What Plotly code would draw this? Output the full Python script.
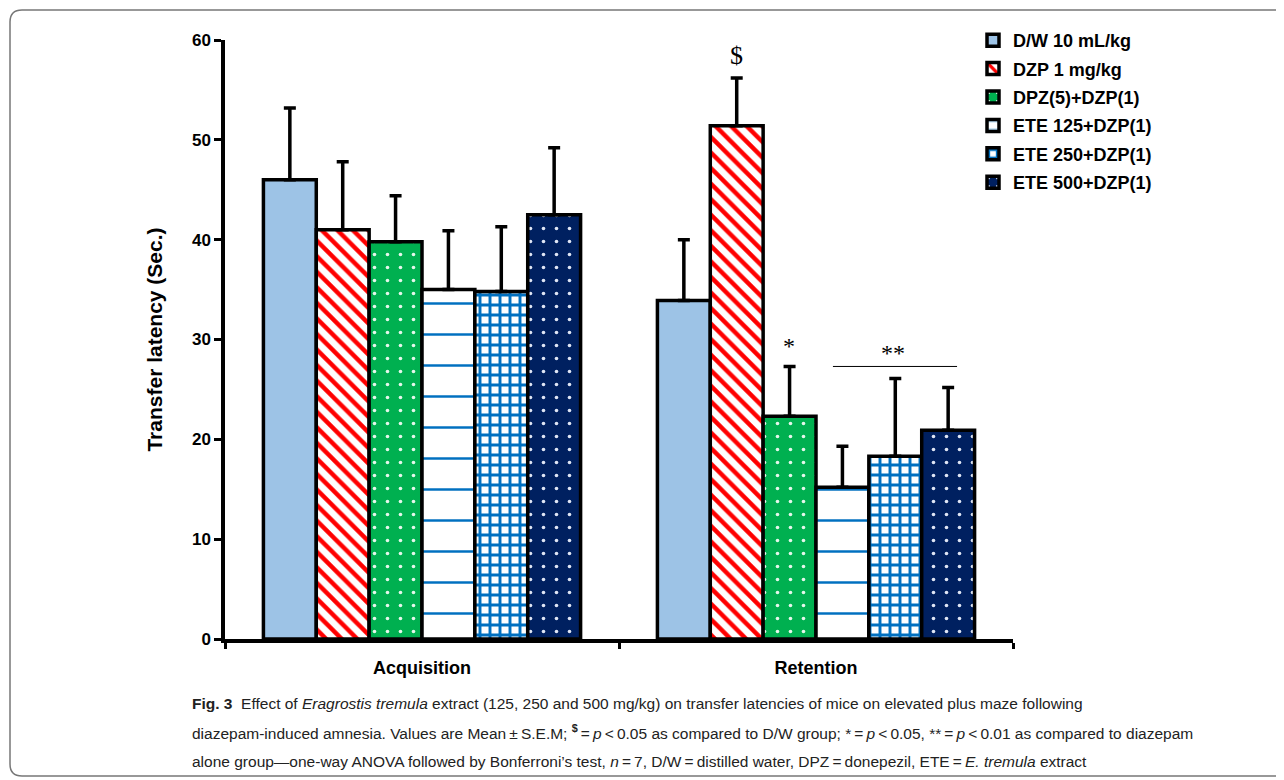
import plotly.graph_objects as go

categories = ["Acquisition", "Retention"]
groups = ["D/W 10 mL/kg", "DZP 1 mg/kg", "DPZ(5)+DZP(1)", "ETE 125+DZP(1)", "ETE 250+DZP(1)", "ETE 500+DZP(1)"]
dw_mean = [46.0, 33.9]
dw_sem = [7.2, 6.1]
dzp_mean = [41.0, 51.4]
dzp_sem = [6.8, 4.8]
dpz_mean = [39.8, 22.3]
dpz_sem = [4.6, 5.0]
ete125_mean = [35.0, 15.2]
ete125_sem = [5.9, 4.1]
ete250_mean = [34.8, 18.3]
ete250_sem = [6.5, 7.8]
ete500_mean = [42.5, 20.9]
ete500_sem = [6.7, 4.3]

means = [dw_mean, dzp_mean, dpz_mean, ete125_mean, ete250_mean, ete500_mean]
sems = [dw_sem, dzp_sem, dpz_sem, ete125_sem, ete250_sem, ete500_sem]

styles = [
    dict(color="#9DC3E6", pattern=dict(shape="")),
    dict(color="white", pattern=dict(shape="\\", fgcolor="#FF0000", bgcolor="white", size=11, solidity=0.4, fgopacity=1, fillmode="overlay")),
    dict(color="#00B050", pattern=dict(shape=".", fgcolor="#E6F7EC", bgcolor="#00B050", size=13, solidity=0.06, fgopacity=1, fillmode="overlay")),
    dict(color="white", pattern=dict(shape="-", fgcolor="#0070C0", bgcolor="white", size=31, solidity=0.08, fgopacity=1, fillmode="overlay")),
    dict(color="white", pattern=dict(shape="+", fgcolor="#0070C0", bgcolor="white", size=10, solidity=0.5, fgopacity=1, fillmode="overlay")),
    dict(color="#002060", pattern=dict(shape=".", fgcolor="#E0E6F5", bgcolor="#002060", size=13, solidity=0.06, fgopacity=1, fillmode="overlay")),
]

fig = go.Figure()
for name, m, s, st in zip(groups, means, sems, styles):
    fig.add_trace(go.Bar(
        name=name, x=categories, y=m, legendgroup=name,
        marker=dict(color=st["color"], pattern=st["pattern"], line=dict(color="black", width=3.5)),
        error_y=dict(type="data", symmetric=False, array=s, arrayminus=[0] * len(s),
                     color="black", thickness=3.5, width=6),
    ))

# plot-area geometry in page pixels (page has an 8px body offset)
OFF = 8
L, R, T, B = 225, 1013, 40, 639
def px(x):
    return (x - L) / (R - L)
def py(y):
    return (B - y) / (B - T)

shapes = []
# rounded frame
x0, y0, x1, y1, r = 10, 10, 1300, 776, 12
path = (f"M {px(x0)},{py(y0 + r)} Q {px(x0)},{py(y0)} {px(x0 + r)},{py(y0)} "
        f"L {px(x1)},{py(y0)} L {px(x1)},{py(y1)} L {px(x0 + r)},{py(y1)} "
        f"Q {px(x0)},{py(y1)} {px(x0)},{py(y1 - r)} Z")
shapes.append(dict(type="path", path=path, xref="paper", yref="paper",
                   line=dict(color="#777777", width=1.5), layer="below"))
# significance line over ETE groups (Retention)
shapes.append(dict(type="line", xref="x", yref="y", x0=1.043, x1=1.358, y0=27.3, y1=27.3,
                   line=dict(color="black", width=1)))

annotations = [
    dict(x=0.799, y=58.4, xref="x", yref="y", text="$", showarrow=False,
         font=dict(family="Liberation Serif", size=26, color="black")),
    dict(x=0.931, y=29.3, xref="x", yref="y", text="*", showarrow=False,
         font=dict(family="Liberation Serif", size=24, color="black")),
    dict(x=1.195, y=28.6, xref="x", yref="y", text="**", showarrow=False,
         font=dict(family="Liberation Serif", size=24, color="black")),
]

TS = "\u2009"  # thin space, as in the typeset caption
cap_font = dict(family="Liberation Sans", size=15.5, color="#222222")
cap_lines = [
    "<b>Fig. 3</b>  Effect of <i>Eragrostis tremula</i> extract (125, 250 and 500 mg/kg) on transfer latencies of mice on elevated plus maze following",
    f"diazepam-induced amnesia. Values are Mean{TS}±{TS}S.E.M; <sup><b>$</b></sup>{TS}={TS}<i>p</i>{TS}<{TS}0.05 as compared to D/W group; *{TS}={TS}<i>p</i>{TS}<{TS}0.05, **{TS}={TS}<i>p</i>{TS}<{TS}0.01 as compared to diazepam",
    f"alone group—one-way ANOVA followed by Bonferroni’s test, <i>n</i>{TS}={TS}7, D/W{TS}={TS}distilled water, DPZ{TS}={TS}donepezil, ETE{TS}={TS}<i>E. tremula</i> extract",
]
for i, line in enumerate(cap_lines):
    annotations.append(dict(x=px(190), y=py(703 + 29 * i), xref="paper", yref="paper",
                            xanchor="left", yanchor="middle", text=line, showarrow=False,
                            font=cap_font, align="left"))

fig.update_layout(
    width=1284, height=780,
    margin=dict(l=L - OFF, r=1284 - (R - OFF), t=T - OFF, b=780 - (B - OFF)),
    paper_bgcolor="white", plot_bgcolor="white",
    barmode="group", bargap=0.195, bargroupgap=0,
    font=dict(family="Liberation Sans", color="black"),
    showlegend=True,
    legend=dict(x=px(973), y=py(22), xanchor="left", yanchor="top",
                font=dict(family="Liberation Sans", size=18, color="black", weight="bold"),
                bgcolor="rgba(0,0,0,0)", tracegroupgap=2, itemwidth=30),
    xaxis=dict(showline=True, linecolor="black", linewidth=3.5, ticks="outside", tickson="boundaries",
               tickwidth=3, ticklen=6, tickcolor="black", ticklabelstandoff=10,
               tickfont=dict(family="Liberation Sans", size=18, color="black", weight="bold"),
               showgrid=False),
    yaxis=dict(range=[0, 60], dtick=10, showline=True, linecolor="black", linewidth=3.5,
               ticks="outside", tickwidth=3, ticklen=7, tickcolor="black", showgrid=False,
               zeroline=False,
               tickfont=dict(family="Liberation Sans", size=17, color="black", weight="bold"),
               title=dict(text="Transfer latency (Sec.)", standoff=25,
                          font=dict(family="Liberation Sans", size=21, color="black", weight="bold"))),
    shapes=shapes, annotations=annotations,
)

fig.write_html("out.html")
